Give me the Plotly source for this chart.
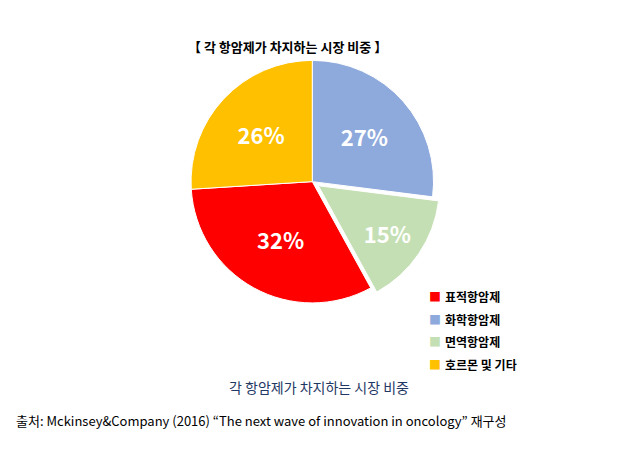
import plotly.graph_objects as go

labels = ["화학항암제", "면역항암제", "표적항암제", "호르몬 및 기타"]
values = [27, 15, 32, 26]
colors = ["#8EA9DB", "#C5DFB4", "#FF0000", "#FFC000"]
legend_labels = ["표적항암제", "화학항암제", "면역항암제", "호르몬 및 기타"]
legend_colors = ["#FF0000", "#8EA9DB", "#C5DFB4", "#FFC000"]

fig = go.Figure(go.Pie(
    labels=labels, values=values, sort=False, direction="clockwise", rotation=0,
    marker=dict(colors=colors, line=dict(color="white", width=1)),
    pull=[0, 0.06, 0, 0],
    texttemplate="<b>%{value}%</b>", textposition="inside",
    textfont=dict(color="white", size=22, family="Noto Sans CJK KR"),
    insidetextorientation="horizontal",
    domain=dict(x=[0.18, 0.8], y=[0.33, 0.9]),
    showlegend=False,
))

anns = [
    dict(text="<b>【 각 항암제가 차지하는 시장 비중 】</b>", x=0.45, y=0.915, font=dict(size=13, color="black")),
    dict(text="각 항암제가 차지하는 시장 비중", x=0.5, y=0.16, font=dict(size=14, color="#1F3864")),
    dict(text="출처: Mckinsey&Company (2016) “The next wave of innovation in oncology” 재구성",
         x=0.01, y=0.085, xanchor="left", font=dict(size=13, color="black")),
]
for i, (lab, col) in enumerate(zip(legend_labels, legend_colors)):
    y = 0.36 - i * 0.05
    anns.append(dict(text="■", x=0.675, y=y, xanchor="left", font=dict(size=12, color=col)))
    anns.append(dict(text="<b>" + lab + "</b>", x=0.7, y=y, xanchor="left", font=dict(size=12, color="black")))
for a in anns:
    a.update(xref="paper", yref="paper", showarrow=False, yanchor="middle")
    a.setdefault("xanchor", "center")

fig.update_layout(
    width=621, height=451, margin=dict(l=0, r=0, t=0, b=0),
    paper_bgcolor="white", font=dict(family="Noto Sans CJK KR"),
    annotations=anns,
)
fig.write_html("out.html")
